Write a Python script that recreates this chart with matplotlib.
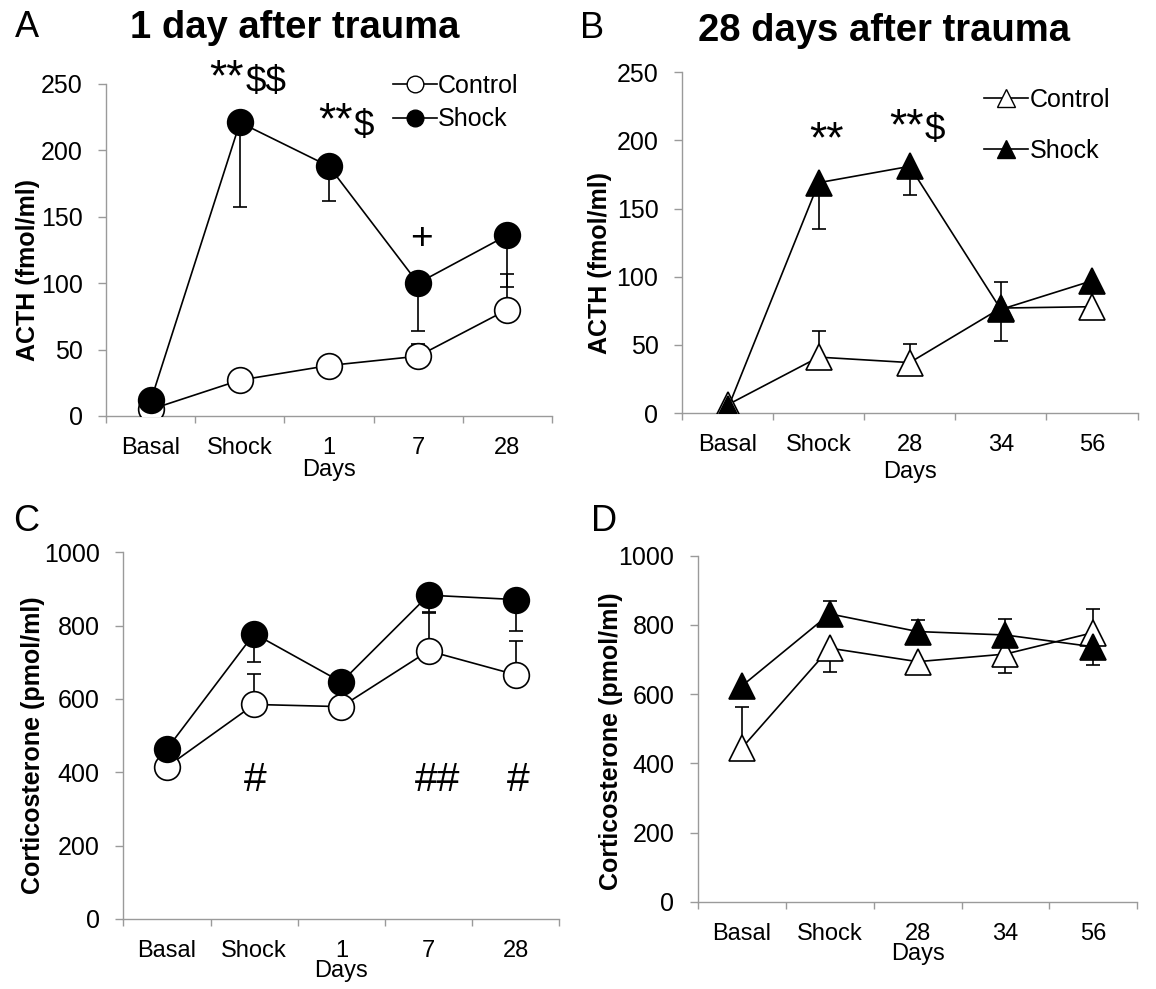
import matplotlib
matplotlib.use('Agg')
import matplotlib.pyplot as plt
from matplotlib.lines import Line2D

plt.rcParams['font.family'] = ['Liberation Sans', 'DejaVu Sans']
plt.rcParams['text.parse_math'] = False

# ---------------- data ----------------
days_a = ['Basal', 'Shock', '1', '7', '28']
days_b = ['Basal', 'Shock', '28', '34', '56']

# A: ACTH, 1 day after trauma
acth_a_ctrl = [5, 27, 38, 45, 80]
acth_a_ctrl_lo = [0, 0, 0, 0, 0]
acth_a_ctrl_hi = [0, 0, 4, 9, 27]
acth_a_shock = [12, 221, 188, 100, 136]
acth_a_shock_lo = [0, 64, 26, 36, 39]
acth_a_shock_hi = [0, 0, 0, 0, 0]

# B: ACTH, 28 days after trauma
acth_b_ctrl = [6, 41, 37, 77, 78]
acth_b_ctrl_lo = [0, 0, 0, 0, 0]
acth_b_ctrl_hi = [0, 19, 14, 19, 0]
acth_b_shock = [3, 169, 181, 76, 97]
acth_b_shock_lo = [0, 34, 21, 23, 0]
acth_b_shock_hi = [0, 0, 0, 0, 0]

# C: corticosterone, 1 day after trauma
cort_c_ctrl = [415, 585, 579, 731, 666]
cort_c_ctrl_lo = [0, 0, 0, 0, 0]
cort_c_ctrl_hi = [0, 82, 0, 103, 92]
cort_c_shock = [464, 778, 646, 883, 871]
cort_c_shock_lo = [0, 76, 0, 45, 87]
cort_c_shock_hi = [0, 0, 0, 0, 0]

# D: corticosterone, 28 days after trauma
cort_d_ctrl = [445, 733, 694, 716, 778]
cort_d_ctrl_lo = [0, 68, 0, 54, 0]
cort_d_ctrl_hi = [117, 0, 0, 0, 67]
cort_d_shock = [624, 832, 781, 771, 737]
cort_d_shock_lo = [0, 0, 0, 0, 54]
cort_d_shock_hi = [0, 37, 33, 46, 0]

acth_ticks = [0, 50, 100, 150, 200, 250]
cort_ticks = [0, 200, 400, 600, 800, 1000]

AX_GRAY = '#9a9a9a'
FS = 18


def draw_panel(ax, labels, ctrl, ctrl_lo, ctrl_hi, shock, shock_lo, shock_hi,
               marker, ms, yticks, ylabel, ylab_xy, days_pad):
    x = list(range(len(labels)))
    # error bars first, markers cover the zero-length stubs
    ax.errorbar(x, ctrl, yerr=[ctrl_lo, ctrl_hi], fmt='none', ecolor='k',
                elinewidth=1.2, capsize=5, capthick=1.2, zorder=1)
    ax.errorbar(x, shock, yerr=[shock_lo, shock_hi], fmt='none', ecolor='k',
                elinewidth=1.2, capsize=5, capthick=1.2, zorder=1)
    ax.plot(x, ctrl, '-', marker=marker, color='k', mfc='white', mec='k',
            ms=ms, mew=1.2, lw=1.2, zorder=3)
    ax.plot(x, shock, '-', marker=marker, color='k', mfc='k', mec='k',
            ms=ms, mew=1.2, lw=1.2, zorder=4)

    ax.set_xlim(-0.5, len(labels) - 0.5)
    ax.set_ylim(yticks[0], yticks[-1])
    ax.set_yticks(yticks)
    ax.set_xticks([i - 0.5 for i in range(len(labels) + 1)])
    ax.set_xticklabels([])
    ax.set_xticks(x, minor=True)
    ax.set_xticklabels(labels, minor=True)
    ax.tick_params(axis='x', which='major', direction='out', length=5,
                   width=1, color=AX_GRAY)
    ax.tick_params(axis='x', which='minor', length=0, pad=15, labelsize=17)
    ax.tick_params(axis='y', direction='out', length=6, width=1,
                   color=AX_GRAY, pad=11, labelsize=FS)
    for s in ['top', 'right']:
        ax.spines[s].set_visible(False)
    for s in ['left', 'bottom']:
        ax.spines[s].set_color(AX_GRAY)
        ax.spines[s].set_linewidth(1)
    ax.set_xlabel('Days', fontsize=17, labelpad=days_pad)
    lab = ax.set_ylabel(ylabel, fontsize=18, fontweight='bold')
    ax.yaxis.set_label_coords(*ylab_xy)
    lab.set_verticalalignment('center')


fig = plt.figure(figsize=(11.56, 9.89), dpi=100)

ax_a = fig.add_axes([0.0921, 0.5794, 0.3850, 0.3357])
ax_b = fig.add_axes([0.5900, 0.5824, 0.3940, 0.3445])
ax_c = fig.add_axes([0.1068, 0.0708, 0.3770, 0.3708])
ax_d = fig.add_axes([0.6038, 0.0880, 0.3800, 0.3501])

draw_panel(ax_a, days_a, acth_a_ctrl, acth_a_ctrl_lo, acth_a_ctrl_hi,
           acth_a_shock, acth_a_shock_lo, acth_a_shock_hi,
           'o', 18.5, acth_ticks, 'ACTH (fmol/ml)', (-0.177, 0.44), 0)
draw_panel(ax_b, days_b, acth_b_ctrl, acth_b_ctrl_lo, acth_b_ctrl_hi,
           acth_b_shock, acth_b_shock_lo, acth_b_shock_hi,
           '^', 19, acth_ticks, 'ACTH (fmol/ml)', (-0.18, 0.439), 4)
draw_panel(ax_c, days_a, cort_c_ctrl, cort_c_ctrl_lo, cort_c_ctrl_hi,
           cort_c_shock, cort_c_shock_lo, cort_c_shock_hi,
           'o', 18.5, cort_ticks, 'Corticosterone (pmol/ml)', (-0.208, 0.475), -1)
draw_panel(ax_d, days_b, cort_d_ctrl, cort_d_ctrl_lo, cort_d_ctrl_hi,
           cort_d_shock, cort_d_shock_lo, cort_d_shock_hi,
           '^', 18.5, cort_ticks, 'Corticosterone (pmol/ml)', (-0.198, 0.463), -1)

# legends
h_a = [Line2D([], [], color='k', lw=1.2, marker='o', mfc='white', mec='k', ms=12),
       Line2D([], [], color='k', lw=1.2, marker='o', mfc='k', mec='k', ms=12)]
ax_a.legend(h_a, ['Control', 'Shock'], loc='upper left',
            bbox_to_anchor=(0.644, 1.03), frameon=False, fontsize=FS,
            handlelength=1.75, handletextpad=0.05, borderpad=0,
            borderaxespad=0, labelspacing=0.37)
h_b = [Line2D([], [], color='k', lw=1.2, marker='^', mfc='white', mec='k', ms=13),
       Line2D([], [], color='k', lw=1.2, marker='^', mfc='k', mec='k', ms=13)]
ax_b.legend(h_b, ['Control', 'Shock'], loc='upper left',
            bbox_to_anchor=(0.664, 0.955), frameon=False, fontsize=FS,
            handlelength=1.75, handletextpad=0.05, borderpad=0,
            borderaxespad=0, labelspacing=1.1)

# significance marks
star_kw = dict(fontsize=32, ha='center', va='center', clip_on=False)
sym_kw = dict(fontsize=26.5, ha='center', va='center', clip_on=False)
ax_a.text(0.848, 253.8, '**', **star_kw)
ax_a.text(1.29, 251, '$$', **sym_kw)
ax_a.text(2.073, 221.8, '**', **star_kw)
ax_a.text(2.397, 218, '$', **sym_kw)
ax_a.text(3.04, 133, '+', fontsize=28, ha='center', va='center')

ax_b.text(1.09, 200, '**', **star_kw)
ax_b.text(1.96, 209, '**', **star_kw)
ax_b.text(2.28, 207, '$', **sym_kw)

hash_kw = dict(fontsize=29.5, ha='center', va='center')
ax_c.text(1.014, 378, '#', **hash_kw)
ax_c.text(3.10, 378, '##', **hash_kw)
ax_c.text(4.03, 378, '#', **hash_kw)

# panel letters and titles
fig.text(0.013, 0.972, 'A', fontsize=26, va='center', ha='left')
fig.text(0.255, 0.972, '1 day after trauma', fontsize=27.5, fontweight='bold',
         va='center', ha='center')
fig.text(0.502, 0.9707, 'B', fontsize=26, va='center', ha='left')
fig.text(0.765, 0.9687, '28 days after trauma', fontsize=27.5, fontweight='bold',
         va='center', ha='center')
fig.text(0.011, 0.4732, 'C', fontsize=26, va='center', ha='left')
fig.text(0.511, 0.4722, 'D', fontsize=26, va='center', ha='left')

fig.savefig('out.png', dpi=100)
